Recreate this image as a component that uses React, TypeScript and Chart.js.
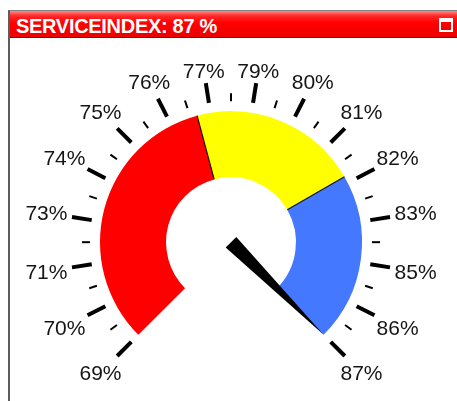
import React, { useEffect, useRef } from 'react';
import { Chart, registerables } from 'chart.js';

Chart.register(...registerables);

// ---- data ----
const title = 'SERVICEINDEX: 87 %';
const gaugeMin = 69;
const gaugeMax = 87;
const needleValue = 87;
const segmentNames = ['Red', 'Yellow', 'Blue'];
const segmentBounds = [69, 77, 82, 87];
const segmentColors = ['#ff0000', '#ffff00', '#4479ff'];
const tickLabels = ['69%', '70%', '71%', '73%', '74%', '75%', '76%', '77%', '79%', '80%', '81%', '82%', '83%', '85%', '86%', '87%'];

const segmentValues = segmentBounds.slice(1).map((b, i) => b - segmentBounds[i]);

const gaugePlugin = {
  id: 'gaugeExtras',
  afterDatasetsDraw(chart: any) {
    const meta = chart.getDatasetMeta(0);
    const first = meta.data[0];
    if (!first) return;
    const p = first.getProps(['x', 'y', 'outerRadius', 'innerRadius', 'startAngle'], true);
    const cx = p.x, cy = p.y, R = p.outerRadius, r = p.innerRadius;
    const start = p.startAngle;
    const span = Math.PI * 1.5;
    const angleOf = (v: number) => start + ((v - gaugeMin) / (gaugeMax - gaugeMin)) * span;
    const ctx = chart.ctx as CanvasRenderingContext2D;
    ctx.save();

    // segment separators
    ctx.strokeStyle = '#111';
    ctx.lineWidth = 1.2;
    for (let i = 1; i < segmentBounds.length - 1; i++) {
      const a = angleOf(segmentBounds[i]);
      ctx.beginPath();
      ctx.moveTo(cx + Math.cos(a) * r, cy + Math.sin(a) * r);
      ctx.lineTo(cx + Math.cos(a) * R, cy + Math.sin(a) * R);
      ctx.stroke();
    }

    // ticks
    const n = tickLabels.length;
    const tickIn = R + 10;
    ctx.strokeStyle = '#000';
    ctx.lineCap = 'butt';
    for (let i = 0; i < n; i++) {
      const a = start + (i / (n - 1)) * span;
      ctx.lineWidth = 4;
      ctx.beginPath();
      ctx.moveTo(cx + Math.cos(a) * tickIn, cy + Math.sin(a) * tickIn);
      ctx.lineTo(cx + Math.cos(a) * (R + 30), cy + Math.sin(a) * (R + 30));
      ctx.stroke();
      if (i < n - 1) {
        const b = start + ((i + 0.5) / (n - 1)) * span;
        ctx.lineWidth = 2;
        ctx.beginPath();
        ctx.moveTo(cx + Math.cos(b) * tickIn, cy + Math.sin(b) * tickIn);
        ctx.lineTo(cx + Math.cos(b) * (R + 18), cy + Math.sin(b) * (R + 18));
        ctx.stroke();
      }
    }

    // labels
    ctx.font = '21px "Liberation Sans", Arial, sans-serif';
    ctx.fillStyle = '#151515';
    ctx.textAlign = 'center';
    ctx.textBaseline = 'alphabetic';
    const capH = 15;
    for (let i = 0; i < n; i++) {
      const a = start + (i / (n - 1)) * span;
      const w = ctx.measureText(tickLabels[i]).width;
      const ca = Math.abs(Math.cos(a)), sa = Math.abs(Math.sin(a));
      const d = R + 32 + 2 * ca + (w / 2) * ca + (capH / 2) * sa;
      const lx = cx + Math.cos(a) * d;
      const ly = cy + Math.sin(a) * d;
      ctx.fillText(tickLabels[i], lx, ly + capH / 2);
    }

    // needle
    const an = angleOf(needleValue);
    const hw = 7.5;
    const px = -Math.sin(an), py = Math.cos(an);
    ctx.fillStyle = '#000';
    ctx.beginPath();
    ctx.moveTo(cx + px * hw, cy + py * hw);
    ctx.lineTo(cx + Math.cos(an) * R, cy + Math.sin(an) * R);
    ctx.lineTo(cx - px * hw, cy - py * hw);
    ctx.closePath();
    ctx.fill();

    ctx.restore();
  },
};

export default function App() {
  const ref = useRef<HTMLCanvasElement | null>(null);

  useEffect(() => {
    if (!ref.current) return;
    const chart = new Chart(ref.current, {
      type: 'doughnut',
      data: {
        labels: segmentNames,
        datasets: [
          {
            data: segmentValues,
            backgroundColor: segmentColors,
            borderWidth: 0,
          },
        ],
      },
      options: {
        responsive: false,
        animation: false,
        rotation: -135,
        circumference: 270,
        cutout: '49.6%',
        radius: 131,
        layout: { padding: { left: 5, right: 0, top: 45, bottom: 0 } },
        plugins: {
          legend: { display: false },
          tooltip: { enabled: false },
        },
      } as any,
      plugins: [gaugePlugin],
    });
    return () => chart.destroy();
  }, []);

  return (
    <div
      style={{
        position: 'fixed',
        left: 0,
        top: 0,
        width: 457,
        height: 401,
        overflow: 'hidden',
        background: '#fff',
      }}
    >
      <div
        style={{
          position: 'absolute',
          left: 8,
          top: 10,
          right: 0,
          bottom: 0,
          borderLeft: '2px solid #5c5c5c',
          borderTop: '1px solid #808080',
        }}
      />
      <div
        style={{
          position: 'absolute',
          left: 10,
          top: 11,
          right: 0,
          height: 26,
          borderBottom: '1px solid #2a2a2a',
          background: 'linear-gradient(to bottom, #ff8a8a 0%, #ff2a2a 18%, #ff0000 45%, #ec0000 100%)',
        }}
      />
      <div
        style={{
          position: 'absolute',
          left: 16,
          top: 16,
          lineHeight: '20px',
          fontFamily: '"Liberation Sans", Arial, sans-serif',
          fontWeight: 'bold',
          fontSize: 20,
          letterSpacing: '-0.3px',
          color: '#fff',
          whiteSpace: 'nowrap',
        }}
      >
        {title}
      </div>
      <div
        style={{
          position: 'absolute',
          left: 439,
          top: 18,
          width: 10,
          height: 8,
          border: '2px solid #fff',
          borderTopWidth: 4,
          boxSizing: 'content-box',
        }}
      />
      <canvas
        ref={ref}
        width={457}
        height={401}
        style={{ position: 'absolute', left: 0, top: 0, width: 457, height: 401 }}
      />
    </div>
  );
}
